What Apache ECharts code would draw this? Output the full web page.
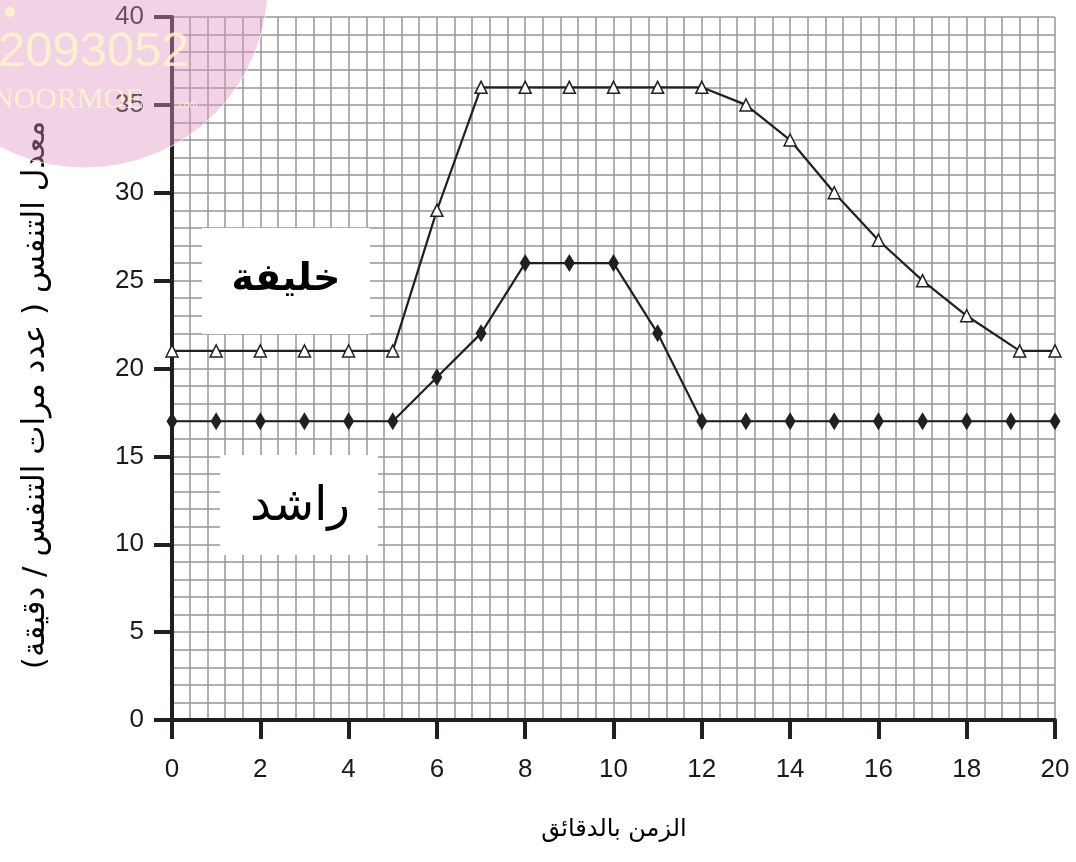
<!DOCTYPE html>
<html>
<head>
<meta charset="utf-8">
<script src="https://cdn.jsdelivr.net/npm/echarts@6/dist/echarts.min.js"></script>
<style>html,body{margin:0;padding:0;background:#fff}#c{width:1076px;height:862px}</style>
</head>
<body>
<div id="c"></div>
<script>
// ---- data ----
const khalifaX = [0, 1, 2, 3, 4, 5, 6, 7, 8, 9, 10, 11, 12, 13, 14, 15, 16, 17, 18, 19.2, 20];
const khalifaY = [21, 21, 21, 21, 21, 21, 29, 36, 36, 36, 36, 36, 36, 35, 33, 30, 27.3, 25, 23, 21, 21];
const rashidX = [0, 1, 2, 3, 4, 5, 6, 7, 8, 9, 10, 11, 12, 13, 14, 15, 16, 17, 18, 19, 20];
const rashidY = [17, 17, 17, 17, 17, 17, 19.5, 22, 26, 26, 26, 22, 17, 17, 17, 17, 17, 17, 17, 17, 17];
const seriesNames = ['خليفة', 'راشد'];
const xTitle = 'الزمن بالدقائق';
const yTitle = 'معدل التنفس ( عدد مرات التنفس / دقيقة)';
const watermark = ['2093052', 'NOORMOE', '.com'];

const pair = (xs, ys) => xs.map((x, i) => [x, ys[i]]);
const ink = '#231f20';
const gridLine = { color: '#979797', width: 1.5 };
const font = "'Liberation Sans', Arial, 'DejaVu Sans', sans-serif";

const chart = echarts.init(document.getElementById('c'));
chart.setOption({
  animation: false,
  backgroundColor: '#fff',
  grid: { left: 172, right: 21, top: 17, bottom: 142, containLabel: false },
  xAxis: {
    type: 'value', min: 0, max: 20, interval: 2,
    axisLine: { show: true, lineStyle: { color: ink, width: 4 } },
    axisTick: { show: true, length: 19, lineStyle: { color: ink, width: 4 } },
    axisLabel: { color: '#1a1a1a', fontSize: 26, fontFamily: font, margin: 37 },
    splitLine: { show: true, lineStyle: gridLine },
    minorTick: { show: false, splitNumber: 5 },
    minorSplitLine: { show: true, lineStyle: gridLine }
  },
  yAxis: {
    type: 'value', min: 0, max: 40, interval: 5,
    axisLine: { show: true, lineStyle: { color: ink, width: 4 } },
    axisTick: { show: true, length: 18, lineStyle: { color: ink, width: 4 } },
    axisLabel: { color: '#1a1a1a', fontSize: 26, fontFamily: font, margin: 28 },
    splitLine: { show: true, lineStyle: gridLine },
    minorTick: { show: false, splitNumber: 5 },
    minorSplitLine: { show: true, lineStyle: gridLine }
  },
  series: [
    {
      name: seriesNames[0], type: 'line', data: pair(khalifaX, khalifaY),
      symbol: 'triangle', symbolSize: 12, showAllSymbol: true,
      lineStyle: { color: ink, width: 2.2 },
      itemStyle: { color: '#fff', borderColor: ink, borderWidth: 1.5 },
      z: 3
    },
    {
      name: seriesNames[1], type: 'line', data: pair(rashidX, rashidY),
      symbol: 'diamond', symbolSize: [11, 18], showAllSymbol: true,
      lineStyle: { color: ink, width: 2.2 },
      itemStyle: { color: ink, borderColor: ink, borderWidth: 0 },
      z: 3
    }
  ],
  graphic: [
    { type: 'rect', z: 10, shape: { x: 202, y: 228, width: 168, height: 106 }, style: { fill: '#fff' } },
    { type: 'text', z: 11, x: 286, y: 280,
      style: { text: seriesNames[0], fill: '#000', font: "bold 38px 'DejaVu Sans', sans-serif", align: 'center', verticalAlign: 'middle' } },
    { type: 'rect', z: 10, shape: { x: 220, y: 455, width: 158, height: 100 }, style: { fill: '#fff' } },
    { type: 'text', z: 11, x: 300, y: 508,
      style: { text: seriesNames[1], fill: '#000', font: "47px 'DejaVu Sans', sans-serif", align: 'center', verticalAlign: 'middle' } },
    // axis titles
    { type: 'text', z: 11, x: 614, y: 830,
      style: { text: xTitle, fill: '#000', font: "24px 'DejaVu Sans', sans-serif", align: 'center', verticalAlign: 'middle' } },
    { type: 'text', z: 11, x: 36, y: 395, rotation: Math.PI / 2,
      style: { text: yTitle, fill: '#000', font: "31px 'DejaVu Sans', sans-serif", align: 'center', verticalAlign: 'middle' } },
    // watermark
    { type: 'circle', z: 100, shape: { cx: 85, cy: -15, r: 183 }, style: { fill: 'rgba(222,150,192,0.42)', stroke: 'rgba(255,255,255,0.8)', lineWidth: 1 } },
    { type: 'circle', z: 101, shape: { cx: 10, cy: 12, r: 5 }, style: { fill: 'rgba(255,243,200,0.9)' } },
    { type: 'text', z: 101, x: -2, y: 52,
      style: { text: watermark[0], fill: 'rgba(255,243,205,0.85)', font: "49px 'Liberation Sans', sans-serif", verticalAlign: 'middle' } },
    { type: 'text', z: 101, x: -8, y: 100,
      style: { text: watermark[1], fill: 'rgba(255,243,205,0.85)', font: "30px 'Liberation Serif', serif", verticalAlign: 'middle' } },
    { type: 'text', z: 101, x: 176, y: 105,
      style: { text: watermark[2], fill: 'rgba(255,243,205,0.85)', font: "10px 'Liberation Sans', sans-serif", verticalAlign: 'middle' } }
  ]
});
</script>
</body>
</html>
